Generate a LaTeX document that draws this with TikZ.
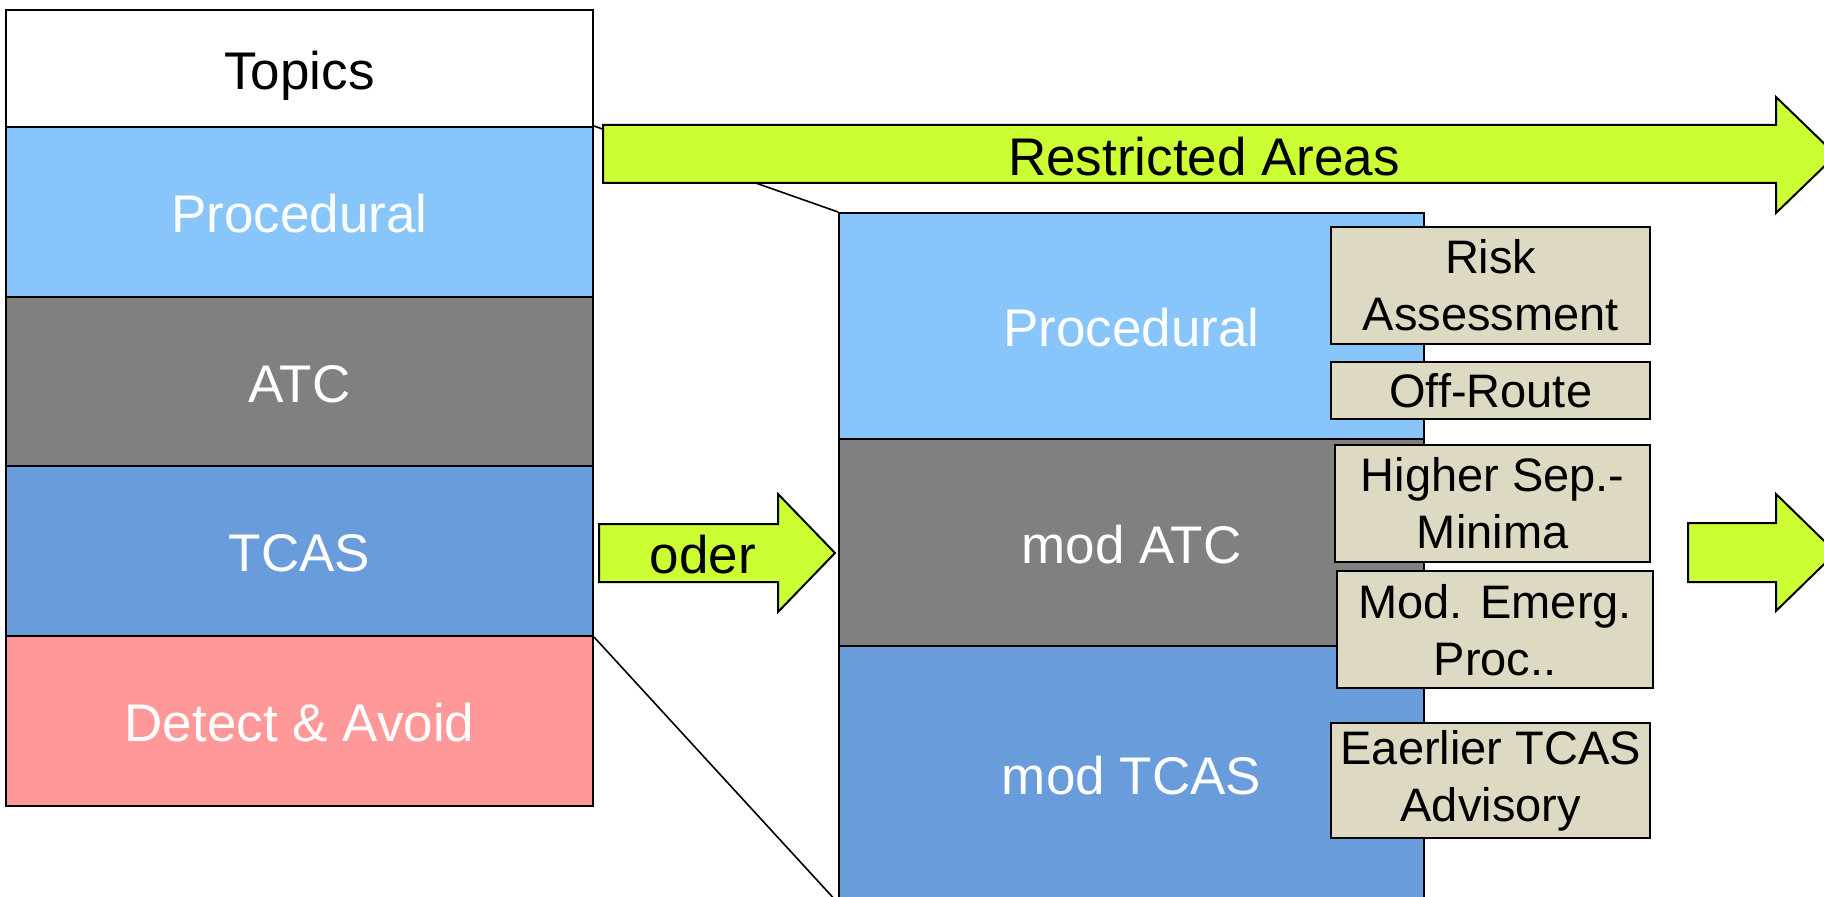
\documentclass[tikz,border=0pt]{standalone}
\usepackage{fontspec}
\setmainfont{Liberation Sans}
\definecolor{procblue}{HTML}{87C5FA}
\definecolor{atcgray}{HTML}{808080}
\definecolor{tcasblue}{HTML}{699CDB}
\definecolor{dapink}{HTML}{FF9999}
\definecolor{arrowgreen}{HTML}{CCFF33}
\definecolor{notebeige}{HTML}{DDD9C3}
\begin{document}
\begin{tikzpicture}[x=0.5pt,y=-0.5pt,
  band/.style={draw=black, line width=1pt, anchor=north west, inner sep=0pt,
    font=\fontsize{26.5}{31}\selectfont, text=white, text height=24pt, text depth=3.4pt},
  lband/.style={band, minimum width=293.5pt, minimum height=85pt},
  rband/.style={band, minimum width=292.5pt},
  note/.style={draw=black, line width=1.2pt, fill=notebeige, anchor=north west,
    inner sep=0pt, align=center, text=black, font=\fontsize{23.5}{28.5}\selectfont},
  garrow/.style={draw=black, line width=1pt, fill=arrowgreen},
  glabel/.style={font=\fontsize{26.5}{31}\selectfont, text=black, inner sep=0pt,
    text height=24pt, text depth=3.4pt},
  zoomline/.style={draw=black, line width=0.8pt}]
\useasboundingbox (0,0) rectangle (1824,897);
\clip (0,0) rectangle (1824,897);
% left column
\node[lband, fill=white, text=black, minimum height=58.5pt] (topics) at (5,9) {Topics};
\node[lband, fill=procblue] (lproc) at (5,126) {Procedural};
\node[lband, fill=atcgray] (latc) at (5,296) {ATC};
\node[lband, fill=tcasblue] (ltcas) at (5,465) {TCAS};
\node[lband, fill=dapink] (lda) at (5,635) {Detect \& Avoid};
% right column
\node[rband, fill=procblue, minimum height=113pt] (rproc) at (838,212) {Procedural};
\node[rband, fill=atcgray, minimum height=103.5pt] (ratc) at (838,438) {mod ATC};
\node[rband, fill=tcasblue, minimum height=128pt] (rtcas) at (838,645) {mod TCAS};
% zoom lines
\draw[zoomline] (lproc.north east) -- (rproc.north west);
\draw[zoomline] (ltcas.south east) -- (rtcas.south west);
% arrows
\draw[garrow] (603,125) -- (1776,125) -- (1776,97) -- (1836,155) -- (1776,213) -- (1776,183) -- (603,183) -- cycle;
\node[glabel] (restricted) at (1204,155) {Restricted Areas};
\draw[garrow] (599,524) -- (778,524) -- (778,494) -- (835,553) -- (778,612) -- (778,582) -- (599,582) -- cycle;
\node[glabel] (oder) at (703,553) {oder};
\draw[garrow] (1688,523) -- (1776,523) -- (1776,494) -- (1836,552.5) -- (1776,611) -- (1776,582) -- (1688,582) -- cycle;
% notes
\node[note, minimum width=159.5pt, minimum height=58.5pt] (risk) at (1330,226) {Risk\\Assessment};
\node[note, minimum width=159.5pt, minimum height=28.5pt] (offroute) at (1330,361) {Off-Route};
\node[note, minimum width=157.5pt, minimum height=58.5pt] (higher) at (1334,444) {Higher Sep.-\\Minima};
\node[note, minimum width=158pt, minimum height=58.5pt] (emerg) at (1336,570) {Mod. Emerg.\\Proc..};
\node[note, minimum width=159.5pt, minimum height=57.5pt] (tcasadv) at (1330,722) {Eaerlier TCAS\\Advisory};
\end{tikzpicture}
\end{document}
